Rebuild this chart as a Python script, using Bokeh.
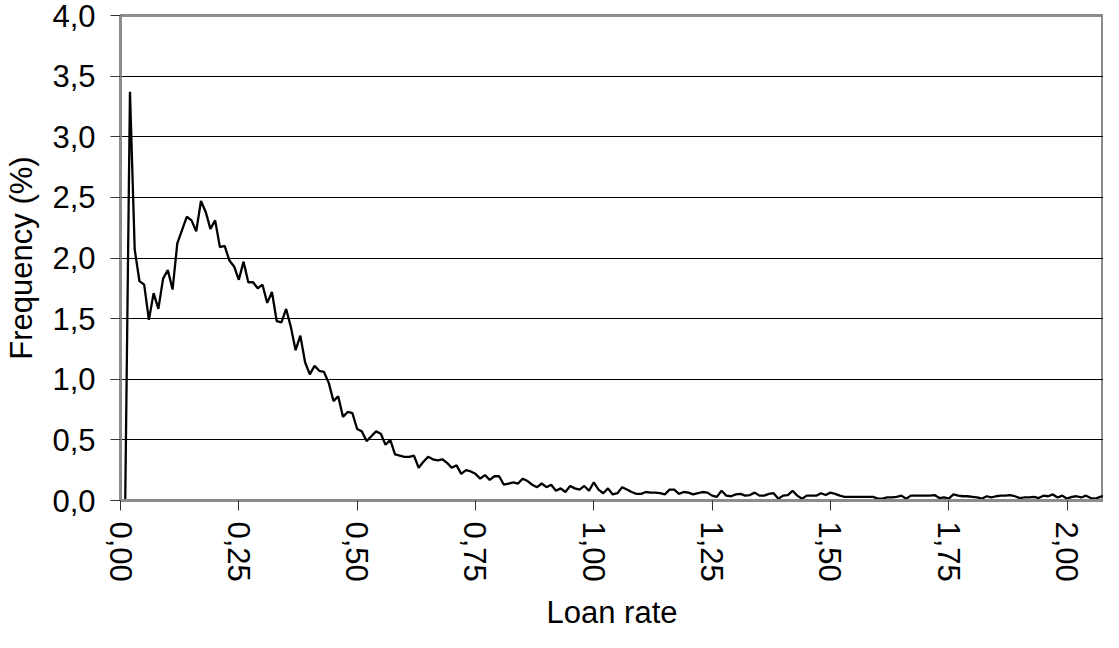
from bokeh.plotting import figure
from bokeh.models import Range1d, FixedTicker, CustomJSTickFormatter
from bokeh.embed import file_html
from bokeh.resources import INLINE

# Frequency (%) per loan-rate bin (bins of 0.01, first bin at 0.01)
frequency = [
    0.0, 3.37, 2.07, 1.81, 1.78, 1.49, 1.71, 1.58, 1.83, 1.90,
    1.74, 2.12, 2.23, 2.34, 2.31, 2.22, 2.47, 2.38, 2.24, 2.31,
    2.09, 2.10, 1.98, 1.93, 1.82, 1.97, 1.80, 1.80, 1.75, 1.78,
    1.63, 1.72, 1.48, 1.47, 1.58, 1.43, 1.24, 1.36, 1.14, 1.04,
    1.11, 1.07, 1.06, 0.97, 0.82, 0.86, 0.69, 0.73, 0.72, 0.59,
    0.57, 0.49, 0.53, 0.57, 0.55, 0.46, 0.50, 0.38, 0.37, 0.36,
    0.36, 0.37, 0.27, 0.32, 0.36, 0.34, 0.33, 0.34, 0.31, 0.27,
    0.29, 0.22, 0.25, 0.24, 0.22, 0.18, 0.21, 0.17, 0.20, 0.20,
    0.13, 0.14, 0.15, 0.14, 0.18, 0.16, 0.13, 0.11, 0.14, 0.11,
    0.13, 0.08, 0.10, 0.07, 0.12, 0.10, 0.09, 0.12, 0.08, 0.15,
    0.09, 0.06, 0.10, 0.05, 0.06, 0.11, 0.09, 0.07, 0.055, 0.055,
    0.07, 0.065, 0.065, 0.06, 0.05, 0.09, 0.09, 0.055, 0.07, 0.065,
    0.05, 0.06, 0.07, 0.065, 0.04, 0.03, 0.08, 0.04, 0.035, 0.05,
    0.055, 0.04, 0.045, 0.065, 0.04, 0.04, 0.055, 0.06, 0.015, 0.04,
    0.045, 0.08, 0.04, 0.015, 0.04, 0.04, 0.04, 0.06, 0.045, 0.065,
    0.055, 0.04, 0.03, 0.03, 0.03, 0.03, 0.03, 0.03, 0.03, 0.015,
    0.015, 0.025, 0.025, 0.03, 0.04, 0.015, 0.04, 0.04, 0.04, 0.04,
    0.04, 0.045, 0.02, 0.025, 0.015, 0.05, 0.04, 0.035, 0.035, 0.03,
    0.025, 0.015, 0.035, 0.025, 0.035, 0.04, 0.04, 0.045, 0.035, 0.02,
    0.025, 0.025, 0.03, 0.02, 0.04, 0.035, 0.05, 0.025, 0.04, 0.015,
    0.03, 0.035, 0.025, 0.04, 0.02, 0.015, 0.03, 0.04, 0.04, 0.04,
]
bin_width = 0.01
loan_rate = [round(bin_width * (i + 1), 2) for i in range(len(frequency))]

x_ticks = [0.0, 0.25, 0.5, 0.75, 1.0, 1.25, 1.5, 1.75, 2.0]
y_ticks = [0.0, 0.5, 1.0, 1.5, 2.0, 2.5, 3.0, 3.5, 4.0]

FONT = "Liberation Sans"
FS = "31px"

p = figure(width=1103, height=632, output_backend="svg", toolbar_location=None,
           x_range=Range1d(0, 2.077), y_range=Range1d(0, 4.0),
           min_border_left=120, min_border_right=0, min_border_top=15,
           min_border_bottom=132)

p.line(loan_rate, frequency, line_color="black", line_width=2.3)

p.background_fill_color = "white"
p.border_fill_color = "white"
p.outline_line_color = "#8c8c8c"
p.outline_line_width = 3

p.xgrid.visible = False
p.ygrid.grid_line_color = "black"
p.ygrid.grid_line_width = 1
p.ygrid.ticker = FixedTicker(ticks=y_ticks)

for ax in (p.xaxis[0], p.yaxis[0]):
    ax.axis_line_color = "#8c8c8c"
    ax.axis_line_width = 3
    ax.major_tick_line_color = "#333333"
    ax.major_tick_line_width = 1
    ax.major_tick_in = 0
    ax.major_tick_out = 10
    ax.minor_tick_line_color = None
    ax.major_label_text_font = FONT
    ax.major_label_text_font_size = FS
    ax.major_label_text_color = "black"
    ax.axis_label_text_font = FONT
    ax.axis_label_text_font_size = FS
    ax.axis_label_text_font_style = "normal"
    ax.axis_label_text_color = "black"

p.xaxis.ticker = FixedTicker(ticks=x_ticks)
p.xaxis.formatter = CustomJSTickFormatter(code="return tick.toFixed(2).replace('.', ',');")
p.xaxis.major_label_orientation = "vertical"
p.xaxis.major_label_standoff = 11
p.xaxis.axis_label = "Loan rate"
p.xaxis.axis_label_standoff = 10

p.yaxis.ticker = FixedTicker(ticks=y_ticks)
p.yaxis.formatter = CustomJSTickFormatter(code="return tick.toFixed(1).replace('.', ',');")
p.yaxis.major_label_standoff = 15
p.yaxis.axis_label = "Frequency (%)"
p.yaxis.axis_label_standoff = 10

open("out.html", "w").write(file_html(p, INLINE))
